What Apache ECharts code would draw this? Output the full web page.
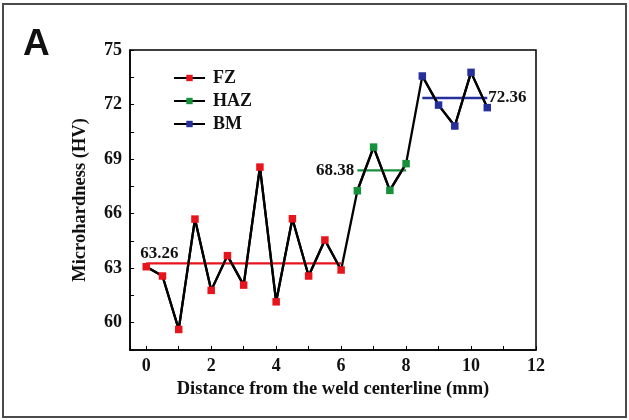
<!DOCTYPE html>
<html>
<head>
<meta charset="utf-8">
<script src="https://cdn.jsdelivr.net/npm/echarts@6/dist/echarts.min.js"></script>
<style>
    html, body { margin: 0; padding: 0; background: #fff; }
    #chart { width: 629px; height: 420px; }
</style>
</head>
<body>
<div id="chart"></div>
<script>
// 数据
var fzX = [0, 0.5, 1, 1.5, 2, 2.5, 3, 3.5, 4, 4.5, 5, 5.5, 6];
var fzY = [63.08, 62.57, 59.63, 65.70, 61.78, 63.69, 62.07, 68.56, 61.15, 65.72, 62.57, 64.55, 62.90];
var hazX = [6.5, 7, 7.5, 8];
var hazY = [67.26, 69.66, 67.28, 68.75];
var bmX = [8.5, 9, 9.5, 10, 10.5];
var bmY = [73.57, 71.97, 70.82, 73.77, 71.83];
// 平均值
var avgNames = ['FZ', 'HAZ', 'BM'];
var avgValues = [63.26, 68.38, 72.36];
var avgFrom = [0, 6.5, 8.5];
var avgTo = [6, 8, 10.5];

var font = '"Liberation Serif", "Times New Roman", serif';
var colors = ['#e8141c', '#17903c', '#25309a'];

function pairs(xs, ys) {
    var out = [];
    for (var i = 0; i < xs.length; i++) {
        out.push([xs[i], ys[i]]);
    }
    return out;
}

var allData = pairs(fzX, fzY).concat(pairs(hazX, hazY), pairs(bmX, bmY));
var zones = [pairs(fzX, fzY), pairs(hazX, hazY), pairs(bmX, bmY)];

var series = [];
// 整体折线
series.push({
    name: 'profile',
    type: 'line',
    data: allData,
    symbol: 'none',
    lineStyle: { color: '#000', width: 2.3 },
    z: 2,
    silent: true
});
// 平均线
var labelPos = [
    { position: 'top', align: 'left', offset: [-6, 4] },
    { position: 'left', distance: 3 },
    { position: 'right', distance: 1 }
];
for (var k = 0; k < 3; k++) {
    var lp = labelPos[k];
    var lbl = {
        show: true,
        position: lp.position,
        color: '#111',
        fontFamily: font,
        fontWeight: 'bold',
        fontSize: 17,
        formatter: avgValues[k].toFixed(2)
    };
    if (lp.align) lbl.align = lp.align;
    if (lp.offset) lbl.offset = lp.offset;
    if (lp.distance != null) lbl.distance = lp.distance;
    var pts = [
        { value: [avgFrom[k], avgValues[k]], label: { show: false } },
        { value: [avgTo[k], avgValues[k]], label: { show: false } }
    ];
    // 标签位置: FZ / HAZ 在起点, BM 在终点
    if (k === 2) pts[1].label = lbl; else pts[0].label = lbl;
    series.push({
        name: avgNames[k] + ' avg',
        type: 'line',
        data: pts,
        symbol: 'circle',
        symbolSize: 0.1,
        showSymbol: true,
        itemStyle: { color: colors[k] },
        lineStyle: { color: colors[k], width: 2.3 },
        z: 3,
        silent: true
    });
}
// 各区域点
for (var j = 0; j < 3; j++) {
    series.push({
        name: avgNames[j],
        type: 'line',
        data: zones[j],
        symbol: 'rect',
        symbolSize: 7.5,
        lineStyle: { color: '#000', width: 2.3 },
        itemStyle: { color: colors[j] },
        z: 4
    });
}

var myChart = echarts.init(document.getElementById('chart'));
var option = {
    animation: false,
    backgroundColor: '#fff',
    graphic: [
        {
            type: 'rect',
            shape: { x: 3, y: 4, width: 623, height: 413 },
            style: { fill: 'none', stroke: '#4a4a4a', lineWidth: 2 }
        },
        {
            type: 'text',
            left: 23,
            top: 26,
            style: {
                text: 'A',
                fill: '#111',
                font: 'bold 37px "Liberation Sans", Arial, sans-serif'
            }
        }
    ],
    grid: {
        left: 130,
        right: 93,
        top: 50,
        bottom: 70,
        show: true,
        borderColor: '#000',
        borderWidth: 1.5
    },
    legend: {
        data: avgNames,
        orient: 'vertical',
        left: 168,
        top: 64,
        itemWidth: 31,
        itemHeight: 8,
        itemGap: 5,
        textStyle: {
            fontFamily: font,
            fontWeight: 'bold',
            fontSize: 18,
            color: '#111',
            padding: [0, 0, 0, 3]
        }
    },
    xAxis: {
        type: 'value',
        min: -0.5,
        max: 12,
        minInterval: 1,
        maxInterval: 1,
        name: 'Distance from the weld centerline (mm)',
        nameLocation: 'middle',
        nameGap: 26,
        nameTextStyle: {
            fontFamily: font,
            fontWeight: 'bold',
            fontSize: 18.5,
            color: '#111'
        },
        axisLine: { onZero: false, lineStyle: { color: '#000', width: 1.5 } },
        axisTick: { inside: true, length: 4, lineStyle: { color: '#000' } },
        splitLine: { show: false },
        axisLabel: {
            margin: 7,
            fontFamily: font,
            fontWeight: 'bold',
            fontSize: 18,
            color: '#111',
            formatter: function (v) {
                if (v >= 0 && Math.abs(v % 2) < 1e-6) return v;
                return '';
            }
        }
    },
    yAxis: {
        type: 'value',
        min: 58.5,
        max: 75,
        interval: 1.5,
        name: 'Microhardness (HV)',
        nameLocation: 'middle',
        nameGap: 40,
        nameTextStyle: {
            fontFamily: font,
            fontWeight: 'bold',
            fontSize: 18.5,
            color: '#111'
        },
        axisLine: { onZero: false, lineStyle: { color: '#000', width: 1.5 } },
        axisTick: { inside: true, length: 4, lineStyle: { color: '#000' } },
        splitLine: { show: false },
        axisLabel: {
            margin: 8,
            fontFamily: font,
            fontWeight: 'bold',
            fontSize: 18,
            color: '#111',
            formatter: function (v) {
                var r = Math.round(v * 10) / 10;
                if (Math.abs(r % 3) < 1e-6) return r;
                return '';
            }
        }
    },
    series: series
};
myChart.setOption(option);
</script>
</body>
</html>
